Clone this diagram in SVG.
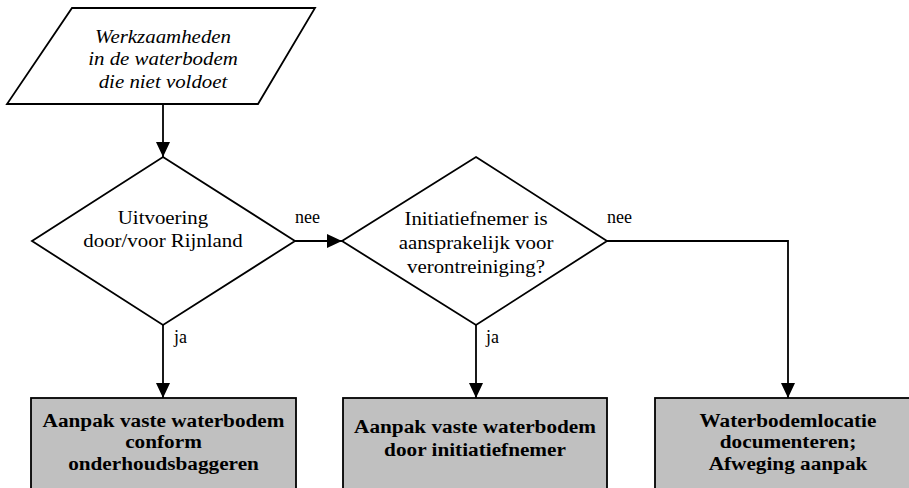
<svg xmlns="http://www.w3.org/2000/svg" width="909" height="488" viewBox="0 0 909 488">
<style>
.shape{fill:#ffffff;stroke:#000000;stroke-width:1.8}
.box{fill:#c0c0c0;stroke:#000000;stroke-width:1.8}
.conn{fill:none;stroke:#000000;stroke-width:1.8}
text{font-family:"Liberation Serif","Times New Roman",serif;fill:#000000}
.t{font-size:18px;text-anchor:middle}
.ti{font-size:18px;font-style:italic;text-anchor:middle}
.tb{font-size:19.5px;font-weight:bold;text-anchor:middle}
.lbl{font-size:18px}
</style>
<defs>
<marker id="arr" markerUnits="userSpaceOnUse" markerWidth="16" markerHeight="15" refX="15" refY="7" orient="auto">
<path d="M0,0 L15,7 L0,14 Z" fill="#000000"/>
</marker>
</defs>
<rect width="909" height="488" fill="#ffffff"/>
<g id="connectors">
<line class="conn" x1="163" y1="104" x2="163" y2="157" marker-end="url(#arr)"/>
<line class="conn" x1="295" y1="241" x2="342" y2="241" marker-end="url(#arr)"/>
<line class="conn" x1="163" y1="325" x2="163" y2="398" marker-end="url(#arr)"/>
<line class="conn" x1="476" y1="325" x2="476" y2="398" marker-end="url(#arr)"/>
<polyline class="conn" points="607,241 788,241 788,398" marker-end="url(#arr)"/>
<text class="lbl" x="295" y="223">nee</text>
<text class="lbl" x="607" y="223">nee</text>
<text class="lbl" x="174" y="343">ja</text>
<text class="lbl" x="486" y="343">ja</text>
</g>
<g id="start">
<polygon class="shape" points="72,8 315,8 258,104 7,104"/>
<g transform="translate(163 0) scale(1.16 1)">
<text class="ti" x="0" y="43">Werkzaamheden</text>
<text class="ti" x="0" y="65.5">in de waterbodem</text>
<text class="ti" x="0" y="88">die niet voldoet</text>
</g>
</g>
<g id="decision1">
<polygon class="shape" points="163,157 295,241 163,325 32,241"/>
<g transform="translate(163 0) scale(1.16 1)">
<text class="t" x="0" y="224">Uitvoering</text>
<text class="t" x="0" y="247">door/voor Rijnland</text>
</g>
</g>
<g id="decision2">
<polygon class="shape" points="476,157 607,241 476,325 342,241"/>
<g transform="translate(476 0) scale(1.16 1)">
<text class="t" x="0" y="225">Initiatiefnemer is</text>
<text class="t" x="0" y="249">aansprakelijk voor</text>
<text class="t" x="0" y="273">verontreiniging?</text>
</g>
</g>
<g id="box1">
<rect class="box" x="31" y="398" width="265" height="100"/>
<g transform="translate(163.5 0) scale(1.09 1)">
<text class="tb" x="0" y="427">Aanpak vaste waterbodem</text>
<text class="tb" x="0" y="448.5">conform</text>
<text class="tb" x="0" y="470">onderhoudsbaggeren</text>
</g>
</g>
<g id="box2">
<rect class="box" x="343" y="398" width="264" height="100"/>
<g transform="translate(475 0) scale(1.09 1)">
<text class="tb" x="0" y="433">Aanpak vaste waterbodem</text>
<text class="tb" x="0" y="456">door initiatiefnemer</text>
</g>
</g>
<g id="box3">
<rect class="box" x="655" y="398" width="266" height="100"/>
<g transform="translate(788 0) scale(1.09 1)">
<text class="tb" x="0" y="427">Waterbodemlocatie</text>
<text class="tb" x="0" y="448.5">documenteren;</text>
<text class="tb" x="0" y="470">Afweging aanpak</text>
</g>
</g>
</svg>
